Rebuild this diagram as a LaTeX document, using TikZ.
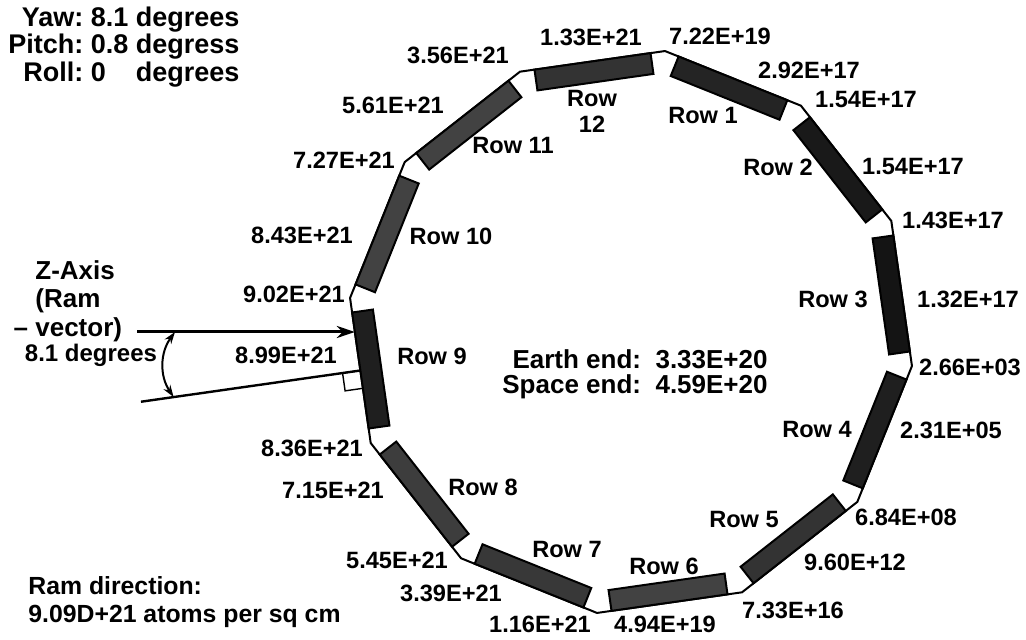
\documentclass[tikz,border=0pt]{standalone}
\usepackage{fontspec}
\setmainfont{Liberation Sans}
\usetikzlibrary{math,calc,arrows.meta}

\tikzset{
  lbl/.style={font=\fontsize{11.8}{13}\selectfont\bfseries, inner sep=0pt, align=center},
  rowbox/.style={draw=black, line width=1pt},
  thinline/.style={line width=1pt},
}

\begin{document}
\begin{tikzpicture}[x=0.5pt,y=0.5pt]
  \tikzmath{\R = 283; \ap = \R*cos(15); \hs = 0.8*\R*sin(15); \yaw = 8.1;}
  \useasboundingbox (0,0) rectangle (1026,640);
  \coordinate (O) at (631,308);
  \foreach \k in {0,...,11} \coordinate (v\k) at ($(O)+({83.1-30*\k}:\R)$);
  \draw[thinline] (v0) \foreach \k in {1,...,11}{ -- (v\k)} -- cycle;
  \foreach \k/\s in {1/86,2/90,3/92,4/88,5/80,6/74,7/78,8/76,9/88,10/74,11/74,12/80}{
    \begin{scope}[shift={(O)}, rotate={68.1-30*(\k-1)}]
      \filldraw[rowbox, fill=black!\s] (\ap-21,-\hs) rectangle (\ap,\hs);
    \end{scope}
  }
  \coordinate (ramtail) at (137,308);
  \coordinate (ramtip) at ($(O)+(180:{\ap/cos(\yaw)})$);
  \coordinate (yawin) at ($(O)+(180+\yaw:\ap)$);
  \coordinate (yawout) at ($(O)+(180+\yaw:495)$);
  \coordinate (arcA) at ($(O)+(180:456)$);
  \coordinate (arcB) at ($(O)+(180+\yaw:462)$);
  \draw[line width=1.5pt, -{Stealth[length=9pt,width=6pt]}] (ramtail) -- (ramtip);
  \draw[line width=1.2pt] (yawin) -- (yawout);
  \begin{scope}[shift={(yawin)}, rotate=180+\yaw]
    \draw[line width=0.7pt] (0,0) -- (18,0) -- (18,18) -- (0,18);
  \end{scope}
  \draw[thinline, {Stealth[length=6pt,width=4pt]}-{Stealth[length=6pt,width=4pt]}] (arcA) to[bend right=35] (arcB);

  \node[lbl, anchor=west, font=\fontsize{13.5}{12.75}\selectfont\bfseries] (att) at (8,592)
    {\begin{tabular}{@{}r@{\ }l@{}}
      Yaw: & 8.1 degrees\\
      Pitch: & 0.8 degress\\
      Roll: & 0\phantom{.8} degrees
    \end{tabular}};
  \node[lbl, anchor=east, font=\fontsize{13}{11.5}\selectfont\bfseries] (ends) at (768,265)
    {\begin{tabular}{@{}r@{\ \ }l@{}}
      Earth end: & 3.33E+20\\
      Space end: & 4.59E+20
    \end{tabular}};
  \node[lbl, anchor=west, align=left, font=\fontsize{13}{14.25}\selectfont\bfseries] (zaxis) at (35,339)
    {Z-Axis\\(Ram\\\llap{-- }vector)};
  \node[lbl, font=\fontsize{12}{14}\selectfont\bfseries] (deg) at (91,285) {8.1 degrees};
  \node[lbl, anchor=west, align=left, font=\fontsize{12.4}{14}\selectfont\bfseries] (ramdir) at (28,38)
    {Ram direction:\\9.09D+21 atoms per sq cm};

  \node[lbl] (row1) at (703,524) {Row 1};
  \node[lbl] (row2) at (778,473) {Row 2};
  \node[lbl] (row3) at (833,341) {Row 3};
  \node[lbl] (row4) at (817,210) {Row 4};
  \node[lbl] (row5) at (744,120) {Row 5};
  \node[lbl] (row6) at (664,74) {Row 6};
  \node[lbl] (row7) at (567,90) {Row 7};
  \node[lbl] (row8) at (483,153) {Row 8};
  \node[lbl] (row9) at (432,284) {Row 9};
  \node[lbl] (row10) at (451,404) {Row 10};
  \node[lbl] (row11) at (513,494) {Row 11};
  \node[lbl] (row12) at (592,529) {Row\\12};

  \node[lbl] (v722) at (720,604) {7.22E+19};
  \node[lbl] (v292) at (809,570) {2.92E+17};
  \node[lbl] (v154a) at (866,540) {1.54E+17};
  \node[lbl] (v154b) at (913,473) {1.54E+17};
  \node[lbl] (v143) at (953,420) {1.43E+17};
  \node[lbl] (v132) at (968,341) {1.32E+17};
  \node[lbl] (v266) at (970,273) {2.66E+03};
  \node[lbl] (v231) at (951,210) {2.31E+05};
  \node[lbl] (v684) at (906,123) {6.84E+08};
  \node[lbl] (v960) at (855,78) {9.60E+12};
  \node[lbl] (v733) at (793,30) {7.33E+16};
  \node[lbl] (v494) at (665,16) {4.94E+19};
  \node[lbl] (v116) at (540,16) {1.16E+21};
  \node[lbl] (v339) at (451,47) {3.39E+21};
  \node[lbl] (v545) at (397,80) {5.45E+21};
  \node[lbl] (v715) at (333,150) {7.15E+21};
  \node[lbl] (v836) at (312,192) {8.36E+21};
  \node[lbl] (v899) at (286,285) {8.99E+21};
  \node[lbl] (v902) at (294,346) {9.02E+21};
  \node[lbl] (v843) at (302,405) {8.43E+21};
  \node[lbl] (v727) at (344,480) {7.27E+21};
  \node[lbl] (v561) at (393,535) {5.61E+21};
  \node[lbl] (v356) at (458,585) {3.56E+21};
  \node[lbl] (v133) at (591,603) {1.33E+21};
\end{tikzpicture}
\end{document}
